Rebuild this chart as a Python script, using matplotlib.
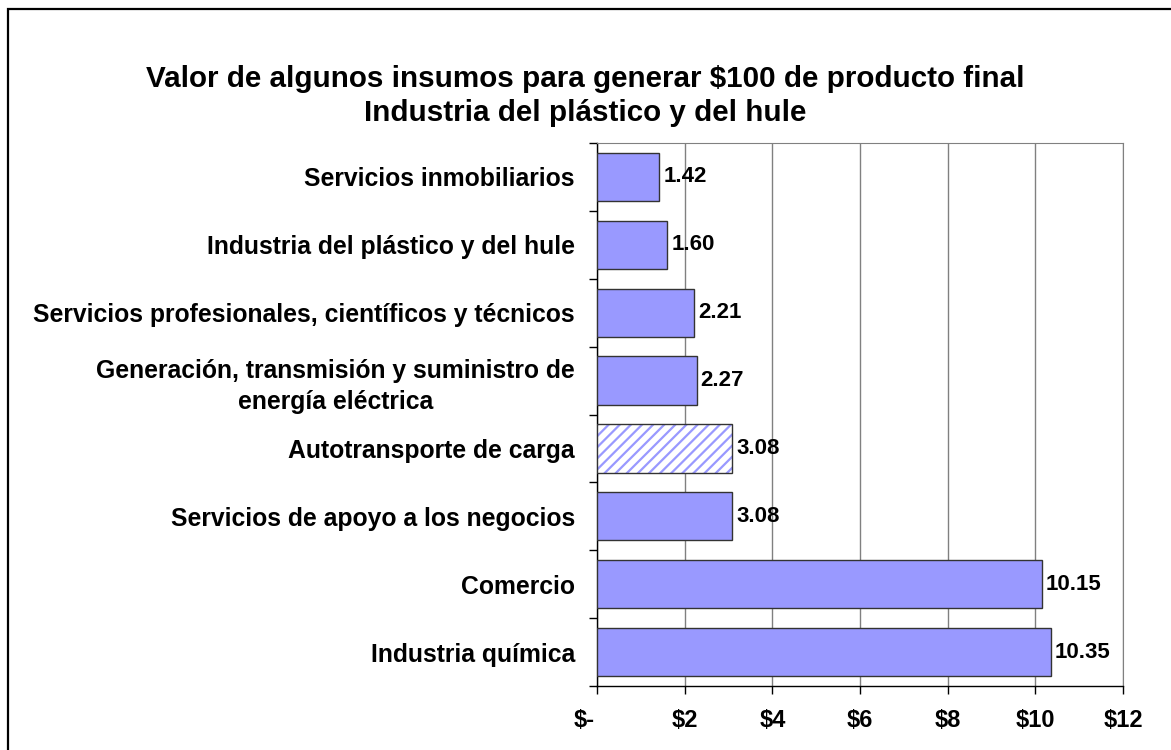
import matplotlib
matplotlib.use("Agg")
import matplotlib.pyplot as plt
from matplotlib.patches import Rectangle
from matplotlib.transforms import ScaledTranslation

plt.rcParams['font.family'] = ['Liberation Sans', 'DejaVu Sans']
plt.rcParams['text.parse_math'] = False
plt.rcParams['hatch.linewidth'] = 1.6

categories = [
    "Servicios inmobiliarios",
    "Industria del plástico y del hule",
    "Servicios profesionales, científicos y técnicos",
    "Generación, transmisión y suministro de\nenergía eléctrica",
    "Autotransporte de carga",
    "Servicios de apoyo a los negocios",
    "Comercio",
    "Industria química",
]
values = [1.42, 1.60, 2.21, 2.27, 3.08, 3.08, 10.15, 10.35]
value_labels = ["1.42", "1.60", "2.21", "2.27", "3.08", "3.08", "10.15", "10.35"]
hatched = [False, False, False, False, True, False, False, False]
xticks = [0, 2, 4, 6, 8, 10, 12]
xtick_labels = ["$-", "$2", "$4", "$6", "$8", "$10", "$12"]
title = "Valor de algunos insumos para generar $100 de producto final\nIndustria del plástico y del hule"

BAR = '#9999FF'
EDGE = '#333333'

fig = plt.figure(figsize=(11.71, 7.5), dpi=100)
ax = fig.add_axes([597 / 1171, 64 / 750, 526 / 1171, 543 / 750])

n = len(categories)
ys = list(range(n))
for i, (v, h) in enumerate(zip(values, hatched)):
    if h:
        ax.barh(i, v, height=0.71, color='white', edgecolor=BAR,
                hatch='///', linewidth=0, zorder=3)
        ax.barh(i, v, height=0.71, fill=False, edgecolor=EDGE,
                linewidth=1.0, zorder=3.5)
    else:
        ax.barh(i, v, height=0.71, color=BAR, edgecolor=EDGE,
                linewidth=1.0, zorder=3)
    ax.annotate(value_labels[i], xy=(v, i), xytext=(3, 0), textcoords='offset points',
                va='center', ha='left', fontsize=16, fontweight='bold', zorder=4)

ax.set_ylim(n - 0.5, -0.5)
ax.set_xlim(0, 12)
ax.set_yticks([i + 0.5 for i in range(-1, n)])
ax.set_yticklabels([])
ax.set_yticks(ys, minor=True)
ax.set_yticklabels(categories, minor=True, fontsize=17.8, fontweight='bold',
                   ha='right', multialignment='center')
for lab in ax.get_yticklabels(minor=True):
    lab.set_linespacing(1.35)
ax.tick_params(axis='y', which='minor', length=0, pad=16)
ax.tick_params(axis='y', which='major', length=5.5, direction='out', width=1)
ax.set_xticks(xticks)
ax.set_xticklabels(xtick_labels, fontsize=17, fontweight='bold')
ax.tick_params(axis='x', length=5.5, direction='out', pad=11, width=1)
first = ax.get_xticklabels()[0]
first.set_transform(first.get_transform() + ScaledTranslation(-13 / 100, 0, fig.dpi_scale_trans))

ax.grid(axis='x', color='#808080', linewidth=1.0, zorder=0)
ax.set_axisbelow(True)
for s in ['top', 'right']:
    ax.spines[s].set_color('#808080')
for s in ['left', 'bottom']:
    ax.spines[s].set_color('black')
    ax.spines[s].set_linewidth(1.0)

fig.text(0.4995, 1 - 96 / 750, title, ha='center', va='center', fontsize=21.3,
         fontweight='bold', linespacing=1.23)

x0 = 7.5 / 1171
y1 = 1 - 8.5 / 750
fig.patches.append(Rectangle((x0, -0.1), 1.2, y1 + 0.1, transform=fig.transFigure,
                             fill=False, edgecolor='black', linewidth=1.6))

fig.savefig("out.png", dpi=100)
